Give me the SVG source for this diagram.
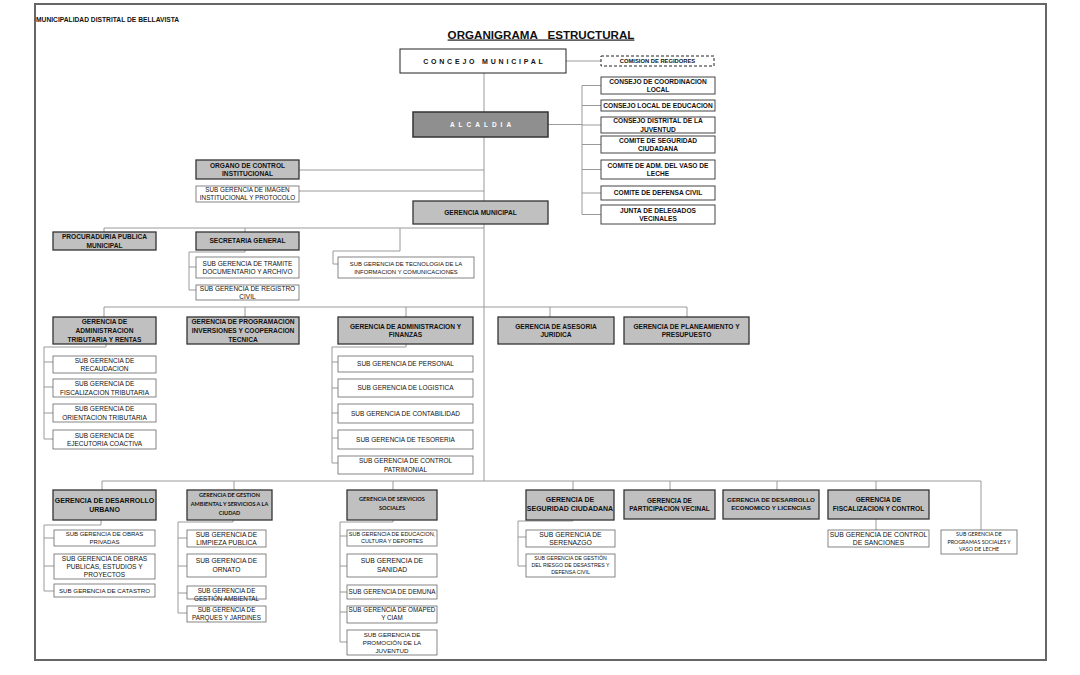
<svg xmlns="http://www.w3.org/2000/svg" width="1080" height="675" viewBox="0 0 1080 675">
<style>
text{font-family:"Liberation Sans",Arial,sans-serif;text-anchor:middle;fill:#111;font-size:6.5px}
.b{font-weight:bold}
.cal{font-family:Lato,"Open Sans",sans-serif}
.g rect{fill:#c0c0c0;stroke:#333;stroke-width:1.3}
.s rect{fill:#fff;stroke:#666;stroke-width:0.8}
.w rect{fill:#fff;stroke:#444;stroke-width:1}
.g text{font-weight:bold;font-size:6.6px}
.w text{font-weight:bold;font-size:6.6px}
#connectors path{fill:none;stroke:#9a9a9a;stroke-width:1}
</style>
<rect width="1080" height="675" fill="#fff"/>
<rect x="35" y="4" width="1011" height="656" fill="none" stroke="#666" stroke-width="2"/>
<text x="36" y="22" class="b" style="text-anchor:start;font-size:6.7px">MUNICIPALIDAD DISTRITAL DE BELLAVISTA</text>
<text x="541" y="38.5" class="b" style="font-size:11.6px;text-decoration:underline">ORGANIGRAMA&#160;&#160; ESTRUCTURAL</text>

<g id="connectors">
<path d="M566,61H601"/>
<path d="M484,73V481"/>
<path d="M548,124.5H582M582,85.5V214.5M582,85.5H601M582,105.5H601M582,125H601M582,144.5H601M582,169.5H601M582,193H601M582,214.5H601"/>
<path d="M299,170H484M299,191H484"/>
<path d="M104,228H484M104,228V232M245,228V232M400,228V251H333V264H338"/>
<path d="M245,250V252H189V290M189,267H196M189,290H196"/>
<path d="M104,307H687M104,307V317M245,307V317M406,307V317M550,307V317M687,307V317"/>
<path d="M106,344V347H44V439M44,362H53M44,387H53M44,413H53M44,439H53"/>
<path d="M406,344V347H332V463M332,362H338M332,388H338M332,413H338M332,438H338M332,463H338"/>
<path d="M102,481H981M102,481V490M234,481V490M393,481V490M573,481V490M670,481V490M777,481V490M876,481V490M981,481V530"/>
<path d="M101,520V525H44V591M44,538H54M44,566H54M44,591H54"/>
<path d="M233,520V522H178V613M178,538H187M178,566H187M178,593H187M178,613H187"/>
<path d="M393,520V522H340V642M340,536H347M340,566H347M340,592H347M340,612H347M340,642H347"/>
<path d="M573,520V521H518V566M518,537H526M518,566H526"/>
<path d="M876,519V530"/>
</g>

<g id="concejo" class="w"><rect x="400" y="49" width="166" height="24" style="stroke:#222"/><text x="484.4" y="63.5" style="font-size:7px;letter-spacing:2.8px">CONCEJO MUNICIPAL</text></g>
<g id="comision"><rect x="601" y="56" width="113" height="10" fill="#fff" stroke="#222" stroke-width="1" stroke-dasharray="3,2"/><text x="657.5" y="63.1" class="b" style="font-size:5.8px">COMISION DE REGIDORES</text></g>
<g id="alcaldia"><rect x="413" y="112" width="135" height="25" fill="#8f8f8f" stroke="#333" stroke-width="1.5"/><text x="482.5" y="126.9" class="b" style="fill:#fff;font-size:6.5px;letter-spacing:4px">ALCALDIA</text></g>

<g id="cons-coordinacion" class="w"><rect x="601" y="77" width="114" height="17"/><text x="658" y="83.7">CONSEJO DE COORDINACION</text><text x="658" y="92.1">LOCAL</text></g>
<g id="cons-educacion" class="w"><rect x="601" y="100" width="114" height="11"/><text x="658" y="107.9">CONSEJO LOCAL DE EDUCACION</text></g>
<g id="cons-juventud" class="w"><rect x="601" y="117" width="114" height="16"/><text x="658" y="123.2">CONSEJO DISTRITAL DE LA</text><text x="658" y="131.6">JUVENTUD</text></g>
<g id="com-seguridad" class="w"><rect x="601" y="136" width="114" height="17"/><text x="658" y="142.7">COMITE DE SEGURIDAD</text><text x="658" y="151.1">CIUDADANA</text></g>
<g id="com-vaso" class="w"><rect x="601" y="160" width="114" height="19"/><text x="658" y="167.7">COMITE DE ADM. DEL VASO DE</text><text x="658" y="176.1">LECHE</text></g>
<g id="com-defensa" class="w"><rect x="601" y="186" width="114" height="14"/><text x="658" y="195.4">COMITE DE DEFENSA CIVIL</text></g>
<g id="junta" class="w"><rect x="601" y="205" width="114" height="19"/><text x="658" y="212.7">JUNTA DE DELEGADOS</text><text x="658" y="221.1">VECINALES</text></g>

<g id="organo" class="g"><rect x="196" y="160" width="103" height="19"/><text x="247.5" y="167.7">ORGANO DE CONTROL</text><text x="247.5" y="176.1">INSTITUCIONAL</text></g>
<g id="imagen" class="s"><rect x="196" y="186" width="103" height="16"/><text x="247.5" y="192.3" style="font-size:6.3px">SUB GERENCIA DE IMAGEN</text><text x="247.5" y="200.3" style="font-size:6.3px">INSTITUCIONAL Y PROTOCOLO</text></g>
<g id="gerencia-municipal" class="g"><rect x="413" y="201" width="135" height="23"/><text x="480.5" y="214.9">GERENCIA MUNICIPAL</text></g>
<g id="procuraduria" class="g"><rect x="53" y="232" width="103" height="18"/><text x="104.5" y="239.2">PROCURADURIA PUBLICA</text><text x="104.5" y="247.6">MUNICIPAL</text></g>
<g id="secretaria" class="g"><rect x="196" y="232" width="103" height="18"/><text x="247.5" y="243.4">SECRETARIA GENERAL</text></g>
<g id="tramite" class="s"><rect x="196" y="257" width="103" height="21"/><text x="247.5" y="265.7">SUB GERENCIA DE TRAMITE</text><text x="247.5" y="274.1">DOCUMENTARIO Y ARCHIVO</text></g>
<g id="registro" class="s"><rect x="196" y="285" width="103" height="15"/><text x="247.5" y="290.7">SUB GERENCIA DE REGISTRO</text><text x="247.5" y="299.1">CIVIL</text></g>
<g id="tecnologia" class="s"><rect x="338" y="257" width="136" height="21"/><text x="406" y="265.7" style="font-size:5.9px">SUB GERENCIA DE TECNOLOGIA DE LA</text><text x="406" y="273.5" style="font-size:5.9px">INFORMACION Y COMUNICACIONES</text></g>

<g id="g-tributaria" class="g"><rect x="53" y="317" width="103" height="27"/><text x="104.5" y="324.3">GERENCIA DE</text><text x="104.5" y="332.9">ADMINISTRACION</text><text x="104.5" y="341.5">TRIBUTARIA Y RENTAS</text></g>
<g id="g-programacion" class="g"><rect x="187" y="317" width="112" height="27"/><text x="243" y="324.3">GERENCIA DE PROGRAMACION</text><text x="243" y="332.9">INVERSIONES Y COOPERACION</text><text x="243" y="341.5">TECNICA</text></g>
<g id="g-finanzas" class="g"><rect x="338" y="317" width="135" height="27"/><text x="405.5" y="328.7">GERENCIA DE ADMINISTRACION Y</text><text x="405.5" y="337.1">FINANZAS</text></g>
<g id="g-asesoria" class="g"><rect x="498" y="317" width="116" height="27"/><text x="556" y="328.7">GERENCIA DE ASESORIA</text><text x="556" y="337.1">JURIDICA</text></g>
<g id="g-planeamiento" class="g"><rect x="624" y="317" width="125" height="27"/><text x="686.5" y="328.7">GERENCIA DE PLANEAMIENTO Y</text><text x="686.5" y="337.1">PRESUPUESTO</text></g>

<g id="sg-recaudacion" class="s"><rect x="53" y="356" width="103" height="17"/><text x="104.5" y="362.7">SUB GERENCIA DE</text><text x="104.5" y="371.1">RECAUDACION</text></g>
<g id="sg-fisc-trib" class="s"><rect x="53" y="379" width="103" height="18"/><text x="104.5" y="386.2">SUB GERENCIA DE</text><text x="104.5" y="394.6">FISCALIZACION TRIBUTARIA</text></g>
<g id="sg-orientacion" class="s"><rect x="53" y="404" width="103" height="18"/><text x="104.5" y="411.2">SUB GERENCIA DE</text><text x="104.5" y="419.6">ORIENTACION TRIBUTARIA</text></g>
<g id="sg-ejecutoria" class="s"><rect x="53" y="430" width="103" height="19"/><text x="104.5" y="437.7">SUB GERENCIA DE</text><text x="104.5" y="446.1">EJECUTORIA COACTIVA</text></g>

<g id="sg-personal" class="s"><rect x="338" y="356" width="135" height="16"/><text x="405.5" y="366.4">SUB GERENCIA DE PERSONAL</text></g>
<g id="sg-logistica" class="s"><rect x="338" y="379" width="135" height="18"/><text x="405.5" y="390.4">SUB GERENCIA DE LOGISTICA</text></g>
<g id="sg-contabilidad" class="s"><rect x="338" y="404" width="135" height="19"/><text x="405.5" y="415.9">SUB GERENCIA DE CONTABILIDAD</text></g>
<g id="sg-tesoreria" class="s"><rect x="338" y="430" width="135" height="19"/><text x="405.5" y="441.9">SUB GERENCIA DE TESORERIA</text></g>
<g id="sg-patrimonial" class="s"><rect x="338" y="456" width="135" height="18"/><text x="405.5" y="463.2">SUB GERENCIA DE CONTROL</text><text x="405.5" y="471.6">PATRIMONIAL</text></g>

<g id="g-urbano" class="g"><rect x="53" y="490" width="103" height="30"/><text x="104.5" y="503.1" style="font-size:7px">GERENCIA DE DESARROLLO</text><text x="104.5" y="511.9" style="font-size:7px">URBANO</text></g>
<g id="g-ambiental" class="g"><rect x="187" y="490" width="85" height="30"/><text x="229.5" y="497" class="cal" style="font-size:5.5px">GERENCIA DE GESTION</text><text x="229.5" y="506" class="cal" style="font-size:5.5px">AMBIENTAL Y SERVICIOS A LA</text><text x="229.5" y="515" class="cal" style="font-size:5.5px">CIUDAD</text></g>
<g id="g-sociales" class="g"><rect x="347" y="490" width="90" height="30"/><text x="392" y="500.7" class="cal" style="font-size:5.6px">GERENCIA DE SERVICIOS</text><text x="392" y="510" class="cal" style="font-size:5.6px">SOCIALES</text></g>
<g id="g-seguridad" class="g"><rect x="526" y="490" width="88" height="30"/><text x="570" y="501.5" style="font-size:7px">GERENCIA DE</text><text x="570" y="510.5" style="font-size:7px">SEGURIDAD CIUDADANA</text></g>
<g id="g-participacion" class="g"><rect x="624" y="490" width="91" height="29"/><text x="669.5" y="502.5" style="font-size:6.5px">GERENCIA DE</text><text x="669.5" y="511" style="font-size:6.5px">PARTICIPACION VECINAL</text></g>
<g id="g-economico" class="g"><rect x="723" y="490" width="96" height="29"/><text x="771" y="502" style="font-size:6.2px">GERENCIA DE DESARROLLO</text><text x="771" y="510.3" style="font-size:6.2px">ECONOMICO Y LICENCIAS</text></g>
<g id="g-fiscalizacion" class="g"><rect x="828" y="490" width="101" height="29"/><text x="878.5" y="502" style="font-size:6.6px">GERENCIA DE</text><text x="878.5" y="510.7" style="font-size:6.6px">FISCALIZACION Y CONTROL</text></g>

<g id="sg-obras-privadas" class="s"><rect x="54" y="530" width="101" height="16"/><text x="104.5" y="536.4" style="font-size:6px">SUB GERENCIA DE OBRAS</text><text x="104.5" y="543.9" style="font-size:6px">PRIVADAS</text></g>
<g id="sg-obras-publicas" class="s"><rect x="54" y="554" width="101" height="25"/><text x="104.5" y="560.9" style="font-size:6.6px">SUB GERENCIA DE OBRAS</text><text x="104.5" y="568.9" style="font-size:6.6px">PUBLICAS, ESTUDIOS Y</text><text x="104.5" y="576.9" style="font-size:6.6px">PROYECTOS</text></g>
<g id="sg-catastro" class="s"><rect x="54" y="584" width="101" height="13"/><text x="104.5" y="592.7" style="font-size:6.2px">SUB GERENCIA DE CATASTRO</text></g>

<g id="sg-limpieza" class="s"><rect x="187" y="530" width="79" height="17"/><text x="226.5" y="536.7" style="font-size:6.7px">SUB GERENCIA DE</text><text x="226.5" y="545.1" style="font-size:6.7px">LIMPIEZA PUBLICA</text></g>
<g id="sg-ornato" class="s"><rect x="187" y="554" width="79" height="23"/><text x="226.5" y="563" style="font-size:6.7px">SUB GERENCIA DE</text><text x="226.5" y="571.7" style="font-size:6.7px">ORNATO</text></g>
<g id="sg-gestion-ambiental" class="s"><rect x="187" y="586" width="79" height="13"/><text x="226.5" y="592.7" style="font-size:6.3px">SUB GERENCIA DE</text><text x="226.5" y="600.5" style="font-size:6.3px">GESTIÓN AMBIENTAL</text></g>
<g id="sg-parques" class="s"><rect x="187" y="606" width="79" height="16"/><text x="226.5" y="612" style="font-size:6.3px">SUB GERENCIA DE</text><text x="226.5" y="620" style="font-size:6.3px">PARQUES Y JARDINES</text></g>

<g id="sg-educacion" class="s"><rect x="347" y="530" width="90" height="16"/><text x="392" y="535.8" style="font-size:5.5px">SUB GERENCIA DE EDUCACION,</text><text x="392" y="543" style="font-size:5.5px">CULTURA Y DEPORTES</text></g>
<g id="sg-sanidad" class="s"><rect x="347" y="554" width="90" height="23"/><text x="392" y="563" style="font-size:6.8px">SUB GERENCIA DE</text><text x="392" y="572" style="font-size:6.8px">SANIDAD</text></g>
<g id="sg-demuna" class="s"><rect x="347" y="585" width="90" height="14"/><text x="392" y="594.3" style="font-size:6.3px">SUB GERENCIA DE DEMUNA</text></g>
<g id="sg-omaped" class="s"><rect x="347" y="606" width="90" height="17"/><text x="392" y="612.2" style="font-size:6.3px">SUB GERENCIA DE OMAPED</text><text x="392" y="620.4" style="font-size:6.3px">Y CIAM</text></g>
<g id="sg-promocion" class="s"><rect x="347" y="630" width="90" height="25"/><text x="392" y="636.7" style="font-size:6.2px">SUB GERENCIA DE</text><text x="392" y="645" style="font-size:6.2px">PROMOCIÓN DE LA</text><text x="392" y="653.2" style="font-size:6.2px">JUVENTUD</text></g>

<g id="sg-serenazgo" class="s"><rect x="526" y="530" width="89" height="17"/><text x="570.5" y="536.7" style="font-size:6.8px">SUB GERENCIA DE</text><text x="570.5" y="545.3" style="font-size:6.8px">SERENAZGO</text></g>
<g id="sg-riesgo" class="s"><rect x="526" y="554" width="89" height="23"/><text x="570.5" y="560.4" style="font-size:5.2px">SUB GERENCIA DE GESTIÓN</text><text x="570.5" y="567.4" style="font-size:5.2px">DEL RIESGO DE DESASTRES Y</text><text x="570.5" y="574.4" style="font-size:5.2px">DEFENSA CIVIL</text></g>
<g id="sg-sanciones" class="s"><rect x="828" y="530" width="101" height="17"/><text x="878.5" y="536.7" style="font-size:6.8px">SUB GERENCIA DE CONTROL</text><text x="878.5" y="545.3" style="font-size:6.8px">DE SANCIONES</text></g>
<g id="sg-programas" class="s"><rect x="941" y="530" width="76" height="24"/><text x="979" y="536.4" class="cal" style="font-size:5.3px">SUB GERENCIA DE</text><text x="979" y="543.9" class="cal" style="font-size:5.3px">PROGRAMAS SOCIALES Y</text><text x="979" y="551.4" class="cal" style="font-size:5.3px">VASO DE LECHE</text></g>
</svg>
